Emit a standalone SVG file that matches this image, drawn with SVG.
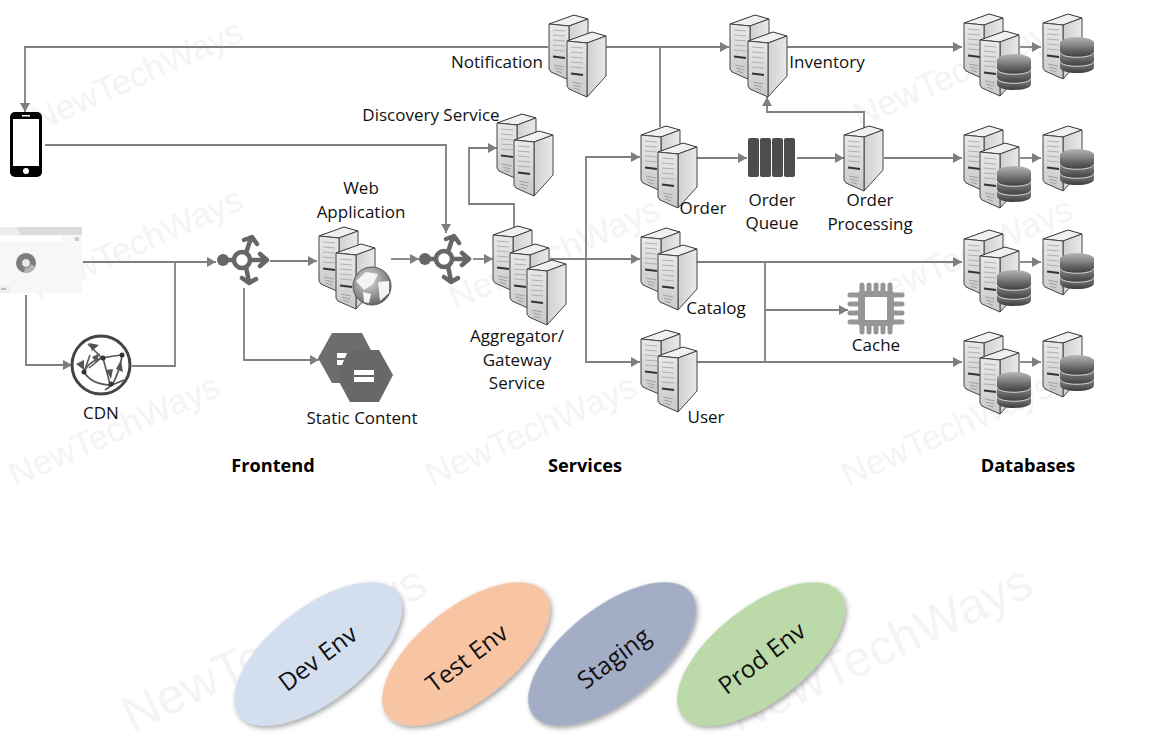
<svg xmlns="http://www.w3.org/2000/svg" width="1151" height="751" viewBox="0 0 1151 751">
<style>
text{font-family:"Open Sans","Noto Sans","Liberation Sans",sans-serif;fill:#111;font-size:17px;text-anchor:middle}
.h{font-weight:700;font-size:18.2px;fill:#000}
.wm{font-family:"Liberation Sans",sans-serif;fill:#f4f4f4;font-size:34.5px;text-anchor:start}
.wb{font-size:50px}
.env{font-size:24.5px;fill:#111}
.c{fill:none;stroke:#7f7f7f;stroke-width:1.8}
.ca{fill:none;stroke:#7f7f7f;stroke-width:1.8;marker-end:url(#arrow)}
.lb{fill:none;stroke:#666;stroke-width:4.5;stroke-linecap:round;stroke-linejoin:round}
</style>
<defs>
<marker id="arrow" markerUnits="userSpaceOnUse" markerWidth="10" markerHeight="11" refX="9" refY="5.5" orient="auto"><path d="M0,0.5 L9,5.5 L0,10.5Z" fill="#7f7f7f"/></marker>
<linearGradient id="front" x1="0" y1="0" x2="0" y2="1"><stop offset="0" stop-color="#e9e9e9"/><stop offset="1" stop-color="#c9c9c9"/></linearGradient>
<linearGradient id="side" x1="0" y1="0" x2="1" y2="0"><stop offset="0" stop-color="#d0d0d0"/><stop offset="1" stop-color="#e9e9e9"/></linearGradient>
<linearGradient id="tier" x1="0" y1="0" x2="0" y2="1"><stop offset="0" stop-color="#8d8d8d"/><stop offset="1" stop-color="#3d3d3d"/></linearGradient>
<linearGradient id="cyltop" x1="0" y1="0" x2="0" y2="1"><stop offset="0" stop-color="#b5b5b5"/><stop offset="1" stop-color="#6f6f6f"/></linearGradient>
<radialGradient id="glob" cx=".4" cy=".35" r=".7"><stop offset="0" stop-color="#d8d8d8"/><stop offset=".65" stop-color="#8f8f8f"/><stop offset="1" stop-color="#5f5f5f"/></radialGradient>
<filter id="sh" x="-20%" y="-20%" width="140%" height="140%"><feDropShadow dx="0" dy="3" stdDeviation="2.5" flood-color="#555" flood-opacity=".55"/></filter>
<g id="server">
<path d="M1,9 L26,0 L40,4 L21,11Z" fill="#f0f0f0" stroke="#333" stroke-width="1"/>
<path d="M21,11 L40,4 L40,44 L21,65Z" fill="url(#side)" stroke="#444" stroke-width="1"/>
<path d="M1,9 L21,11 L21,65 L3,57 L1,54Z" fill="url(#front)" stroke="#444" stroke-width="1"/>
<path d="M5,15 L17,16 M5,20 L17,21 M5,25 L17,26 M5,30 L17,31 M5,35 L17,36" stroke="#b0b0b0" stroke-width="1" fill="none"/>
<path d="M5,41.500 L17,43" stroke="#333" stroke-width="1.8"/>
<path d="M6,50 L16,52 M7,53 L15,55 M8,56 L14,58" stroke="#a0a0a0" stroke-width="1" fill="none"/>
</g>
<g id="db">
<path d="M0,24 V30 C0,38 34,38 34,30 V24Z" fill="url(#tier)"/>
<path d="M0,24 C0,31 34,31 34,24 V15 H0Z" fill="url(#tier)"/>
<path d="M0,6 V15 C0,22 34,22 34,15 V6Z" fill="url(#tier)"/>
<path d="M0,15 C0,22 34,22 34,15 M0,24 C0,31 34,31 34,24" fill="none" stroke="#d9d9d9" stroke-width="1"/>
<ellipse cx="17" cy="6" rx="17" ry="6" fill="url(#cyltop)"/>
</g>
<g id="lb">
<circle cx="-19" cy="0" r="6" fill="#666"/>
<path class="lb" d="M-14,0 H-8 M8,0 H24 M18,-6 L25,0 L18,6 M4,-7 L9,-22 M2,-20 L10,-23 L15,-16 M4,7 L7,22 M0,18 L7,23 L14,19"/>
<circle cx="0" cy="0" r="8" fill="#fff" stroke="#666" stroke-width="4.5"/>
</g>
</defs>
<rect width="1151" height="751" fill="#fff"/>
<g id="watermarks">
<text class="wm" transform="translate(38,132) rotate(-24)">NewTechWays</text>
<text class="wm" transform="translate(38,300) rotate(-24)">NewTechWays</text>
<text class="wm" transform="translate(455,310) rotate(-24)">NewTechWays</text>
<text class="wm" transform="translate(860,128) rotate(-24)">NewTechWays</text>
<text class="wm" transform="translate(868,310) rotate(-24)">NewTechWays</text>
<text class="wm" transform="translate(15,487) rotate(-24)">NewTechWays</text>
<text class="wm" transform="translate(432,487) rotate(-24)">NewTechWays</text>
<text class="wm" transform="translate(848,487) rotate(-24)">NewTechWays</text>
<text class="wm wb" transform="translate(132,733) rotate(-25)">NewTechWays</text>
<text class="wm wb" transform="translate(738,733) rotate(-25)">NewTechWays</text>
</g>
<g id="connectors">
<path class="ca" d="M548,47 H25 V112"/>
<path class="ca" d="M566,47 H729"/>
<path class="c" d="M660,47 V127"/>
<path class="ca" d="M45,145 H446 V233"/>
<path class="ca" d="M83,262 H216"/>
<path class="ca" d="M26,295 V365 H72"/>
<path class="c" d="M132,366 H175 V262"/>
<path class="ca" d="M270,261 H317"/>
<path class="ca" d="M244,288 V360 H319"/>
<path class="ca" d="M391,259 H419"/>
<path class="ca" d="M473,259 H493"/>
<path class="ca" d="M514,228 V204 H469 V148 H497"/>
<path class="ca" d="M550,259 H640"/>
<path class="ca" d="M586,259 V157 H640"/>
<path class="ca" d="M586,259 V362 H640"/>
<path class="ca" d="M697,158 H747"/>
<path class="ca" d="M797,158 H844"/>
<path class="ca" d="M884,158 H962"/>
<path class="ca" d="M864,128 V112 H767 V97"/>
<path class="ca" d="M786,47 H962"/>
<path class="ca" d="M697,262 H962"/>
<path class="ca" d="M697,362 H962"/>
<path class="c" d="M765,262 V362"/>
<path class="ca" d="M765,310 H848"/>
<path class="ca" d="M1020,47 H1041"/>
<path class="ca" d="M1020,158 H1041"/>
<path class="ca" d="M1020,262 H1041"/>
<path class="ca" d="M1020,362 H1041"/>
</g>
<g id="phone"><rect x="10" y="112" width="32" height="65" rx="5" fill="#000"/><rect x="13" y="119" width="26" height="47" fill="#fff"/><circle cx="26" cy="171" r="3" fill="#fff"/><rect x="22" y="115" width="8" height="1.5" fill="#fff"/></g>
<g id="browser"><rect x="0" y="227" width="82" height="66" fill="#f7f7f7"/><rect x="0" y="227" width="82" height="8" fill="#dcdcdc"/><path d="M0,227 H17 L21,235 H0Z" fill="#ececec"/><rect x="0" y="236" width="62" height="6" fill="#fff"/><rect x="0" y="285" width="10" height="8" fill="#f0f0f0"/><rect x="1" y="288.500" width="5" height="1" fill="#888"/><rect x="75" y="237" width="4" height="4" fill="#ccc"/><circle cx="26" cy="263" r="10" fill="#7d7d7d"/><path d="M26,263 L35.500,266 A10,10 0 0 1 24,272.800Z" fill="#b5b5b5"/><circle cx="26" cy="263" r="4.500" fill="#e8e8e8" stroke="#777" stroke-width="1"/></g>
<g id="cdn"><circle cx="101" cy="365" r="29" fill="#fff" stroke="#444" stroke-width="3"/>
<path d="M84,372 C90,358 105,357 122,355 M103,358 L110,384 M84,372 C90,382 100,385 112,385 M112,385 C118,375 120,368 122,356 M105,390 L112,385 L124,380" fill="none" stroke="#555" stroke-width="1.6"/>
<path d="M88,344 L102,358 M90,355 L84,372 M100,359 L89,368" stroke="#555" stroke-width="1.6" fill="none"/>
<path d="M89,343 L99,345 L92,351Z M76,364 L84,360 L84,370Z M100,353 L96,362 L92,357Z M111,379 L106,370 L113,369Z M121,360 L123,372 L116,369Z" fill="#555"/>
<circle cx="103" cy="358" r="2.500" fill="#333"/><circle cx="84" cy="372" r="2.500" fill="#333"/><circle cx="122" cy="355" r="2.500" fill="#333"/><circle cx="111" cy="384" r="2.500" fill="#333"/>
<text x="101" y="419">CDN</text></g>
<use id="lb1" href="#lb" x="242" y="260"/>
<use id="lb2" href="#lb" x="444" y="259"/>
<g id="web-application"><use href="#server" x="318" y="227"/><use href="#server" x="335" y="244"/>
<circle cx="372" cy="286" r="19" fill="url(#glob)" stroke="#555" stroke-width="1"/>
<path d="M356,281 L366,272 L378,274 L373,284 L364,290Z M378,282 L389,281 L389,293 L380,301Z M363,292 L371,294 L369,303 L364,302Z" fill="#f4f4f4"/>
<text x="361" y="194">Web</text><text x="361" y="218">Application</text></g>
<g id="static-content">
<path d="M318,358 L332,333 L362,333 L375,358 L362,383 L332,383Z" fill="#6d6d6d"/>
<path d="M336,376 L350,350 L379,350 L393,375 L379,402 L350,402Z" fill="#686868"/>
<path d="M337,353 H347 L345,358 H337Z M337,360 H344 L342,365 H337Z" fill="#fff"/>
<rect x="354" y="370" width="20" height="5" fill="#fff"/><rect x="354" y="377" width="20" height="5" fill="#fff"/>
<text x="362" y="424">Static Content</text></g>
<g id="discovery-service"><use href="#server" x="496" y="114"/><use href="#server" x="513" y="131"/><text x="431" y="121">Discovery Service</text></g>
<g id="aggregator"><use href="#server" x="492" y="226"/><use href="#server" x="509" y="244"/><use href="#server" x="526" y="260"/><text x="517" y="342">Aggregator/</text><text x="517" y="366">Gateway</text><text x="517" y="389">Service</text></g>
<g id="notification"><use href="#server" x="548" y="15"/><use href="#server" x="566" y="32"/><text x="497" y="68">Notification</text></g>
<g id="inventory"><use href="#server" x="729" y="15"/><use href="#server" x="747" y="32"/><text x="827" y="68">Inventory</text></g>
<g id="order"><use href="#server" x="640" y="126"/><use href="#server" x="657" y="143"/><text x="703" y="214">Order</text></g>
<g id="catalog"><use href="#server" x="640" y="228"/><use href="#server" x="657" y="245"/><text x="716" y="314">Catalog</text></g>
<g id="user"><use href="#server" x="640" y="330"/><use href="#server" x="657" y="347"/><text x="706" y="423">User</text></g>
<g id="order-queue"><rect x="748" y="138" width="11" height="39" rx="2" fill="#4d4d4d"/><rect x="760" y="138" width="11" height="39" rx="2" fill="#4d4d4d"/><rect x="772" y="138" width="11" height="39" rx="2" fill="#4d4d4d"/><rect x="784" y="138" width="11" height="39" rx="2" fill="#4d4d4d"/><text x="772" y="206">Order</text><text x="772" y="229">Queue</text></g>
<g id="order-processing"><use href="#server" x="843" y="126"/><text x="870" y="206">Order</text><text x="870" y="230">Processing</text></g>
<g id="cache"><rect x="858" y="291" width="36" height="35" rx="3" fill="#969696"/><rect x="865" y="297" width="22" height="23" fill="#fff"/>
<path d="M862,285 V291 M869,285 V291 M876,285 V291 M883,285 V291 M890,285 V291 M862,326 V332 M869,326 V332 M876,326 V332 M883,326 V332 M890,326 V332 M850,295 H858 M850,304 H858 M850,313 H858 M850,322 H858 M894,295 H902 M894,304 H902 M894,313 H902 M894,322 H902" stroke="#969696" stroke-width="5" stroke-linecap="round"/>
<text x="876" y="351">Cache</text></g>
<g id="db-inventory"><use href="#server" x="963" y="14"/><use href="#server" x="979" y="31"/><use href="#db" x="997" y="54"/><use href="#server" x="1042" y="14"/><use href="#db" x="1060" y="37"/></g>
<g id="db-order"><use href="#server" x="963" y="126"/><use href="#server" x="979" y="143"/><use href="#db" x="997" y="166"/><use href="#server" x="1042" y="126"/><use href="#db" x="1060" y="149"/></g>
<g id="db-catalog"><use href="#server" x="963" y="230"/><use href="#server" x="979" y="247"/><use href="#db" x="997" y="270"/><use href="#server" x="1042" y="230"/><use href="#db" x="1060" y="253"/></g>
<g id="db-user"><use href="#server" x="963" y="332"/><use href="#server" x="979" y="349"/><use href="#db" x="997" y="372"/><use href="#server" x="1042" y="332"/><use href="#db" x="1060" y="355"/></g>
<g id="headings"><text class="h" x="273" y="472">Frontend</text><text class="h" x="585" y="472">Services</text><text class="h" x="1028" y="472">Databases</text></g>
<g id="dev-env"><ellipse cx="318" cy="654" rx="100" ry="47" transform="rotate(-38 318 654)" fill="#d3deef" filter="url(#sh)"/><text class="env" transform="translate(323,665) rotate(-37)">Dev Env</text></g>
<g id="test-env"><ellipse cx="466" cy="654" rx="100" ry="47" transform="rotate(-38 466 654)" fill="#f7c5a4" filter="url(#sh)"/><text class="env" transform="translate(472,665) rotate(-37)">Test Env</text></g>
<g id="staging"><ellipse cx="612" cy="654" rx="100" ry="47" transform="rotate(-38 612 654)" fill="#a3aec6" filter="url(#sh)"/><text class="env" transform="translate(619,665) rotate(-37)">Staging</text></g>
<g id="prod-env"><ellipse cx="761" cy="654" rx="100" ry="47" transform="rotate(-38 761 654)" fill="#bbd9a9" filter="url(#sh)"/><text class="env" transform="translate(767,665) rotate(-37)">Prod Env</text></g>
</svg>
